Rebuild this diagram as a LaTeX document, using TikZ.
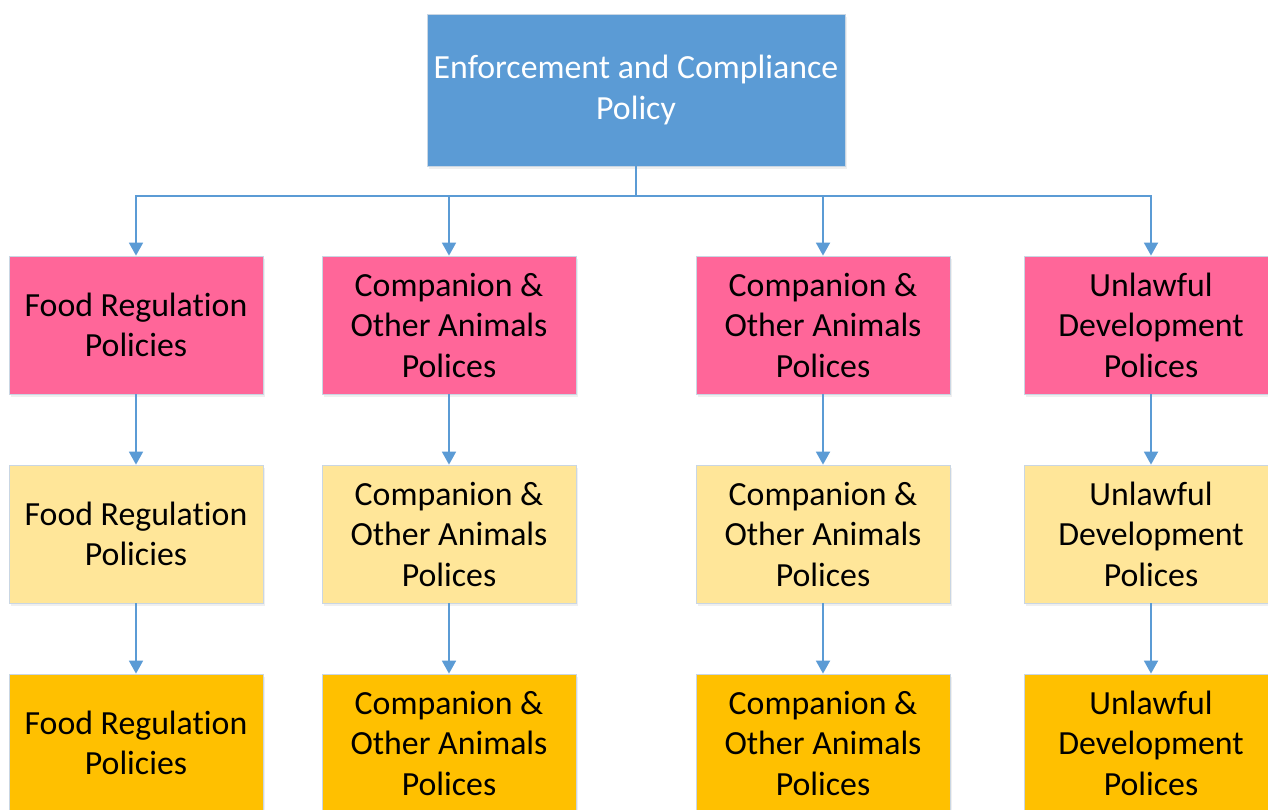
\documentclass[tikz,border=0pt]{standalone}
\usepackage{fontspec}
\setmainfont[Ligatures=NoCommon]{Carlito}
\usetikzlibrary{arrows.meta,shadows}
\definecolor{cblue}{HTML}{5B9BD5}
\definecolor{cpink}{HTML}{FF6699}
\definecolor{cpale}{HTML}{FFE699}
\definecolor{cgold}{HTML}{FFC000}
\definecolor{cedge}{HTML}{C9D6E3}
\begin{document}
\begin{tikzpicture}[x=1pt,y=-1pt,
  box/.style={draw=cedge, line width=0.8pt, minimum width=254pt, minimum height=138pt,
    align=center, inner sep=0pt, font=\fontsize{33.8}{40.5}\selectfont,
    drop shadow={opacity=0.12, shadow xshift=2pt, shadow yshift=-3pt}},
  topbox/.style={box, fill=cblue, text=white, minimum width=418pt, minimum height=152pt},
  pinkbox/.style={box, fill=cpink},
  palebox/.style={box, fill=cpale},
  goldbox/.style={box, fill=cgold},
  conn/.style={draw=cblue, line width=1.8pt},
  arr/.style={conn, -{Triangle[width=14pt,length=13pt]}}]
\clip (0,0) rectangle (1268,809);
\fill[white] (0,0) rectangle (1268,809);

\node[topbox] (top) at (636,90) {Enforcement and Compliance\\Policy};

\node[pinkbox] (a1) at (136,325) {Food Regulation\\Policies};
\node[pinkbox] (a2) at (449,325) {Companion \&\\Other Animals\\Polices};
\node[pinkbox] (a3) at (823,325) {Companion \&\\Other Animals\\Polices};
\node[pinkbox] (a4) at (1151,325) {Unlawful\\Development\\Polices};

\node[palebox] (b1) at (136,534) {Food Regulation\\Policies};
\node[palebox] (b2) at (449,534) {Companion \&\\Other Animals\\Polices};
\node[palebox] (b3) at (823,534) {Companion \&\\Other Animals\\Polices};
\node[palebox] (b4) at (1151,534) {Unlawful\\Development\\Polices};

\node[goldbox] (c1) at (136,743) {Food Regulation\\Policies};
\node[goldbox] (c2) at (449,743) {Companion \&\\Other Animals\\Polices};
\node[goldbox] (c3) at (823,743) {Companion \&\\Other Animals\\Polices};
\node[goldbox] (c4) at (1151,743) {Unlawful\\Development\\Polices};

\coordinate (j) at (636,196);
\draw[conn] (top.south) -- (j);
\foreach \i in {1,2,3,4}{
  \draw[arr] (j) -| (a\i.north);
  \draw[arr] (a\i) -- (b\i);
  \draw[arr] (b\i) -- (c\i);
}
\end{tikzpicture}
\end{document}
